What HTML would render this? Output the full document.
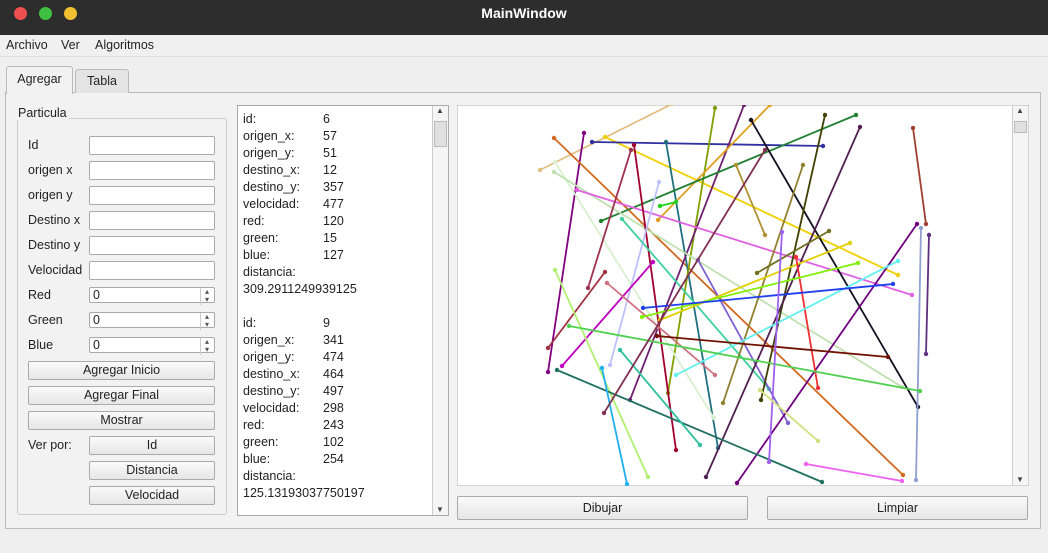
<!DOCTYPE html>
<html><head><meta charset="utf-8"><style>
*{box-sizing:border-box}
body{margin:0;width:1048px;height:553px;overflow:hidden;background:#efefef;font-family:"Liberation Sans","DejaVu Sans",sans-serif;font-size:12.5px;color:#222;position:relative}
.abs{position:absolute}
.title{left:0;top:0;width:1048px;height:35px;background:#2d2d2d;color:#fff;font-weight:bold;font-size:14px;text-align:center;line-height:27px}
.dot{width:13px;height:13px;border-radius:50%;top:7px}
.menu{top:35px;left:0;width:1048px;height:22px;background:#f0f0f0;border-bottom:1px solid #ddd}
.menu span{position:absolute;top:3px}
.tab{height:27px;border:1px solid #bbb;border-bottom:none;border-radius:3px 3px 0 0;text-align:center;line-height:25px}
.panel{left:5px;top:92px;width:1036px;height:437px;border:1px solid #bbb;background:#f2f2f2}
.lbl{left:28px}
.inp{left:89px;width:126px;height:19px;background:#fff;border:1px solid #aaa;border-radius:2px;padding-left:3px;line-height:17px}
.btn{height:19px;border:1px solid #aaa;border-radius:2px;background:linear-gradient(#fafafa,#e6e6e6);text-align:center;line-height:17px}
.spin::after{content:"▴\A▾";white-space:pre;position:absolute;right:1px;top:0;font-size:8px;line-height:8px;color:#555;width:12px;text-align:center;border-left:1px solid #ccc;height:17px}
.txt div{height:17px;line-height:17px;position:relative}
.txt span{position:absolute;left:80px}
.sb{background:#f5f5f5;border-left:1px solid #ccc}
</style></head><body>
<div class="abs title">MainWindow</div>
<div class="abs dot" style="left:14px;background:#ee5050"></div>
<div class="abs dot" style="left:39px;background:#40c040"></div>
<div class="abs dot" style="left:64px;background:#f0c030"></div>
<div class="abs menu">
<span style="left:6px">Archivo</span>
<span style="left:61px">Ver</span>
<span style="left:95px">Algoritmos</span></div>
<div class="abs panel"></div>
<div class="abs tab" style="left:6px;top:66px;width:67px;background:#f2f2f2;height:28px">Agregar</div>
<div class="abs tab" style="left:75px;top:69px;width:54px;height:24px;line-height:23px;background:#e4e4e4">Tabla</div>
<div class="abs" style="left:17px;top:118px;width:210px;height:397px;border:1px solid #ccc;border-radius:3px"></div>
<div class="abs" style="left:16px;top:106px;background:#f2f2f2;padding:0 2px">Particula</div>
<div id="form"></div>
<div class="abs txt" style="left:237px;top:105px;width:212px;height:411px;background:#fff;border:1px solid #aaa;padding:5px 5px">
<div>id:<span>6</span></div><div>origen_x:<span>57</span></div><div>origen_y:<span>51</span></div><div>destino_x:<span>12</span></div><div>destino_y:<span>357</span></div><div>velocidad:<span>477</span></div><div>red:<span>120</span></div><div>green:<span>15</span></div><div>blue:<span>127</span></div><div>distancia:</div><div>309.2911249939125</div><div></div>
<div>id:<span>9</span></div><div>origen_x:<span>341</span></div><div>origen_y:<span>474</span></div><div>destino_x:<span>464</span></div><div>destino_y:<span>497</span></div><div>velocidad:<span>298</span></div><div>red:<span>243</span></div><div>green:<span>102</span></div><div>blue:<span>254</span></div><div>distancia:</div><div>125.13193037750197</div></div>
<div class="abs sb" style="left:432px;top:106px;width:16px;height:409px">
<div class="abs" style="top:0;left:3px;font-size:8px;color:#444">▲</div>
<div class="abs" style="top:15px;left:1px;width:13px;height:26px;background:#e0e0e0;border:1px solid #bbb"></div>
<div class="abs" style="bottom:1px;left:3px;font-size:8px;color:#444">▼</div></div>
<svg class="abs" id="scene" style="left:457px;top:105px" width="572" height="381"></svg>
<div class="abs sb" style="left:1012px;top:106px;width:16px;height:379px">
<div class="abs" style="top:0;left:3px;font-size:8px;color:#444">▲</div>
<div class="abs" style="top:15px;left:1px;width:13px;height:12px;background:#e0e0e0;border:1px solid #bbb"></div>
<div class="abs" style="bottom:1px;left:3px;font-size:8px;color:#444">▼</div></div>
<div class="abs btn" style="left:457px;top:496px;width:291px;height:24px;line-height:22px">Dibujar</div>
<div class="abs btn" style="left:767px;top:496px;width:261px;height:24px;line-height:22px">Limpiar</div>
<script>
const form=document.getElementById('form');
const labels=['Id','origen x','origen y','Destino x','Destino y','Velocidad','Red','Green','Blue'];
labels.forEach((t,i)=>{
 const y=136+i*25;
 const l=document.createElement('div');l.className='abs lbl';l.style.top=(y+2)+'px';l.textContent=t;
 
 
 form.appendChild(l);
 const inp=document.createElement('div');inp.className='abs inp'+(i>=6?' spin':'');inp.style.top=y+'px';
 if(i>=6){inp.textContent='0';inp.style.height='16px';inp.style.top=(y+1)+'px';inp.style.lineHeight='14px';}
 
 
 form.appendChild(inp);
});
[['Agregar Inicio',361,28,187],['Agregar Final',386,28,187],['Mostrar',411,28,187],['Id',436,89,126],['Distancia',461,89,126],['Velocidad',486,89,126]].forEach(b=>{
 const e=document.createElement('div');e.className='abs btn';e.style.cssText=`top:${b[1]}px;left:${b[2]}px;width:${b[3]}px`;e.textContent=b[0];
 
 
 form.appendChild(e);
});
const vp=document.createElement('div');vp.className='abs lbl';vp.style.top='438px';vp.textContent='Ver por:';


form.appendChild(vp);

// scene data (page coordinates of particle origin/destination)
const origenX=[540,584,554,605,592,666,715,744,658,601,555,554,577,634,631,659,622,698,653,605,607,555,751,825,860,736,803,829,850,913,917,921,929,796,858,898,893,657,569,557,602,620,782,760,806,604,660];
const origenY=[170,133,138,137,142,142,108,105,220,221,162,172,190,145,150,182,219,260,262,272,283,270,120,115,127,165,165,231,243,128,224,228,235,257,263,261,284,336,326,370,368,350,232,390,464,413,206];
const destinoX=[672,548,903,898,823,718,668,630,770,856,714,902,912,676,588,610,769,788,562,548,715,648,918,761,706,765,723,757,660,926,737,916,926,818,642,676,643,888,920,822,627,700,769,818,902,765,676];
const destinoY=[104,372,475,275,146,448,393,400,105,115,418,387,295,450,288,365,389,423,366,348,375,477,407,400,477,235,403,273,320,224,483,480,354,388,317,375,308,357,391,482,484,445,462,441,481,150,202];
const colores=['#e0c080','#800080','#d2691e','#f0d000','#3030a0','#207080','#80a000','#702070','#e0a020','#208030','#d8f0d0','#c0e0b0','#e060e0','#a00030','#a03050','#c0c0ff','#40d0a0','#8060d0','#c000c0','#a03040','#d07080','#b0f070','#101020','#404000','#502050','#b09030','#908030','#707020','#e0d000','#a04030','#700080','#90a0d0','#603080','#f03030','#80f000','#60f0f0','#2040f0','#701000','#50d050','#207060','#20b0f0','#30c0a0','#a060f0','#d0e080','#f060f0','#803050','#20d020'];
const OX=457,OY=105;
const sx=v=>v-OX, sy=v=>v-OY;
const svg=document.getElementById('scene');
const NS='http://www.w3.org/2000/svg';
const bg=document.createElementNS(NS,'rect');
bg.setAttribute('x',0);bg.setAttribute('y',0);bg.setAttribute('width',572);bg.setAttribute('height',381);
bg.setAttribute('fill','#fff');bg.setAttribute('stroke','#aaa');
svg.appendChild(bg);
origenX.forEach((x,i)=>{
 const ln=document.createElementNS(NS,'line');
 ln.setAttribute('x1',sx(x));ln.setAttribute('y1',sy(origenY[i]));
 ln.setAttribute('x2',sx(destinoX[i]));ln.setAttribute('y2',sy(destinoY[i]));
 ln.setAttribute('stroke',colores[i]);ln.setAttribute('stroke-width','1.8');
 
 
 svg.appendChild(ln);
 [[x,origenY[i]],[destinoX[i],destinoY[i]]].forEach(p=>{
  const c=document.createElementNS(NS,'circle');
  c.setAttribute('cx',sx(p[0]));c.setAttribute('cy',sy(p[1]));c.setAttribute('r','2.2');
  c.setAttribute('fill',colores[i]);
  
  
  svg.appendChild(c);
 });
});
</script>
</body></html>
